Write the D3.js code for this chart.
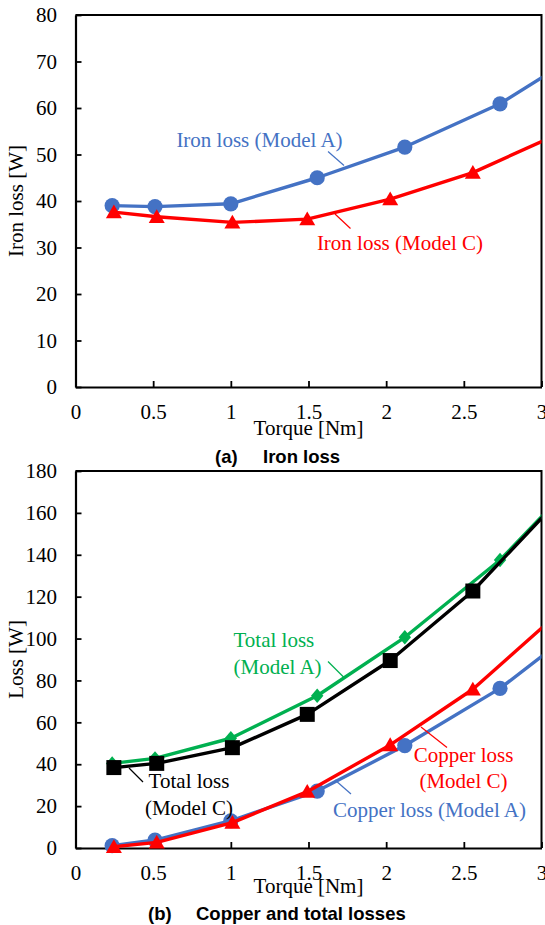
<!DOCTYPE html>
<html>
<head>
<meta charset="utf-8">
<script src="https://cdn.jsdelivr.net/npm/d3@7"></script>
<style>
  html, body { margin: 0; padding: 0; background: #fff; }
  svg { display: block; }
  .serif { font-family: "Liberation Serif", "Times New Roman", serif; }
  .caption { font-family: "Liberation Sans", Arial, sans-serif; font-weight: bold; }
</style>
</head>
<body>
<svg id="chart" width="545" height="925"></svg>
<script>
// Torque operating points [Nm] for each motor model
const torqueA = [0.236, 0.512, 1.0, 1.556, 2.12, 2.733, 3.35];
const torqueC = [0.247, 0.523, 1.01, 1.492, 2.026, 2.558, 3.1];

// Losses [W]
const ironLossA   = [39.0, 38.8, 39.4, 45.0, 51.6, 60.9, 73.8];
const ironLossC   = [37.6, 36.6, 35.4, 36.1, 40.4, 46.1, 54.3];
const copperLossA = [1.1, 3.8, 13.0, 27.2, 48.9, 76.2, 111.3];
const copperLossC = [0.6, 2.7, 12.1, 26.9, 49.2, 75.8, 111.5];
const totalLossA  = [40.4, 42.8, 52.4, 72.7, 100.6, 137.5, 185.3];
const totalLossC  = [38.4, 40.4, 47.9, 63.8, 89.5, 122.7, 165.3];

// Axis ticks and labels
const xTicks = [0, 0.5, 1, 1.5, 2, 2.5, 3];
const xTickLabels = ["0", "0.5", "1", "1.5", "2", "2.5", "3"];
const ironTicks = [0, 10, 20, 30, 40, 50, 60, 70, 80];
const lossTicks = [0, 20, 40, 60, 80, 100, 120, 140, 160, 180];

const COLORS = { blue: "#4472C4", red: "#FF0000", green: "#00B050", black: "#000000" };
const FONT = 21;

const svg = d3.select("#chart");
const defs = svg.append("defs");

const x = d3.scaleLinear().domain([0, 3]).range([75.5, 541.5]);

// marker shapes, centred on the data point
const markerPath = {
  circle: () => d3.symbol().type(d3.symbolCircle).size(Math.PI * 7.6 * 7.6)(),
  triangle: () => "M0,-7.6L8,6.2L-8,6.2Z",
  square: () => "M-7.5,-7.5H7.5V7.5H-7.5Z",
  diamond: () => "M0,-7.2L6.2,0L0,7.2L-6.2,0Z"
};

function drawPanel(opts) {
  const y = d3.scaleLinear().domain(opts.yDomain).range(opts.yRange);
  const g = svg.append("g");
  const [x0, x1] = x.range();
  const [yb, yt] = y.range();

  const clipId = opts.id + "-clip";
  defs.append("clipPath").attr("id", clipId)
    .append("rect").attr("x", x0).attr("y", yt).attr("width", x1 - x0).attr("height", yb - yt);

  // plot frame (top and right)
  g.append("path")
    .attr("d", `M${x0},${yt}H${x1}V${yb}`)
    .attr("fill", "none").attr("stroke", "#000").attr("stroke-width", 2);

  // y axis
  const yAxis = d3.axisLeft(y).tickValues(opts.yTicks).tickFormat(d3.format("d"))
    .tickSizeInner(-6).tickSizeOuter(0).tickPadding(18.5);
  const ya = g.append("g").attr("transform", `translate(${x0},0)`).call(yAxis);
  // x axis
  const xAxis = d3.axisBottom(x).tickValues(xTicks).tickFormat((d, i) => xTickLabels[i])
    .tickSizeInner(-6).tickSizeOuter(0).tickPadding(17.5);
  const xa = g.append("g").attr("transform", `translate(0,${yb})`).call(xAxis);

  [ya, xa].forEach(a => {
    a.select(".domain").attr("stroke", "#000").attr("stroke-width", 2.2);
    a.selectAll(".tick line").attr("stroke", "#000").attr("stroke-width", 1.8);
    a.selectAll(".tick text").attr("class", "serif").attr("font-size", FONT).attr("fill", "#000");
  });
  ya.selectAll(".tick text").attr("dy", "0.32em");
  xa.selectAll(".tick text").attr("dy", "0.71em");

  // axis titles
  g.append("text").attr("class", "serif").attr("font-size", FONT)
    .attr("x", (x0 + x1) / 2).attr("y", opts.xTitleY).attr("text-anchor", "middle")
    .text("Torque [Nm]");
  g.append("text").attr("class", "serif").attr("font-size", FONT)
    .attr("transform", `translate(22.5,${(yb + yt) / 2}) rotate(-90)`)
    .attr("text-anchor", "middle").text(opts.yTitle);

  // series
  const line = d3.line().x(d => x(d[0])).y(d => y(d[1]));
  opts.series.forEach(s => {
    const pts = s.t.map((t, i) => [t, s.v[i]]);
    g.append("path").datum(pts)
      .attr("clip-path", `url(#${clipId})`)
      .attr("d", line).attr("fill", "none")
      .attr("stroke", s.color).attr("stroke-width", 3.4).attr("stroke-linejoin", "round");
    g.append("g").selectAll("path").data(pts.filter(d => d[0] <= 3)).join("path")
      .attr("transform", d => `translate(${x(d[0])},${y(d[1])})`)
      .attr("d", markerPath[s.marker]())
      .attr("fill", s.color);
  });

  // annotations with leader lines
  opts.notes.forEach(n => {
    g.append("line")
      .attr("x1", n.leader[0]).attr("y1", n.leader[1])
      .attr("x2", n.leader[2]).attr("y2", n.leader[3])
      .attr("stroke", n.color).attr("stroke-width", 1.2);
    const t = g.append("text").attr("class", "serif").attr("font-size", FONT)
      .attr("fill", n.color).attr("text-anchor", n.anchor);
    n.lines.forEach((ln, i) => {
      t.append("tspan").attr("x", n.x).attr("y", n.y + i * 26.5).text(ln);
    });
  });

  // caption
  const cap = g.append("text").attr("class", "caption").attr("font-size", 18.5).attr("y", opts.capY);
  cap.append("tspan").attr("x", opts.capX[0]).text(opts.caption[0]);
  cap.append("tspan").attr("x", opts.capX[1]).text(opts.caption[1]);
}

drawPanel({
  id: "iron",
  yDomain: [0, 80], yRange: [387, 15], yTicks: ironTicks,
  yTitle: "Iron loss [W]", xTitleY: 435,
  series: [
    { t: torqueA, v: ironLossA, color: COLORS.blue, marker: "circle" },
    { t: torqueC, v: ironLossC, color: COLORS.red, marker: "triangle" }
  ],
  notes: [
    { lines: ["Iron loss (Model A)"], x: 259.5, y: 147, anchor: "middle", color: COLORS.blue,
      leader: [328, 151.5, 344, 165.5] },
    { lines: ["Iron loss (Model C)"], x: 400, y: 250, anchor: "middle", color: COLORS.red,
      leader: [335, 214, 350.5, 228.5] }
  ],
  caption: ["(a)", "Iron loss"], capX: [215, 263], capY: 462.5
});

drawPanel({
  id: "loss",
  yDomain: [0, 180], yRange: [848, 471], yTicks: lossTicks,
  yTitle: "Loss [W]", xTitleY: 893,
  series: [
    { t: torqueA, v: copperLossA, color: COLORS.blue, marker: "circle" },
    { t: torqueC, v: copperLossC, color: COLORS.red, marker: "triangle" },
    { t: torqueA, v: totalLossA, color: COLORS.green, marker: "diamond" },
    { t: torqueC, v: totalLossC, color: COLORS.black, marker: "square" }
  ],
  notes: [
    { lines: ["Total loss", "(Model A)"], x: 233.5, y: 647, anchor: "start", color: COLORS.green,
      leader: [328, 661.5, 344, 677.5] },
    { lines: ["Total loss", "(Model C)"], x: 189, y: 788, anchor: "middle", color: COLORS.black,
      leader: [129, 768, 143, 782] },
    { lines: ["Copper loss", "(Model C)"], x: 463.5, y: 761.5, anchor: "middle", color: COLORS.red,
      leader: [421, 727, 447, 747.5] },
    { lines: ["Copper loss (Model A)"], x: 429.5, y: 817, anchor: "middle", color: COLORS.blue,
      leader: [335, 780, 351, 794] }
  ],
  caption: ["(b)", "Copper and total losses"], capX: [148, 196], capY: 920
});
</script>
</body>
</html>
